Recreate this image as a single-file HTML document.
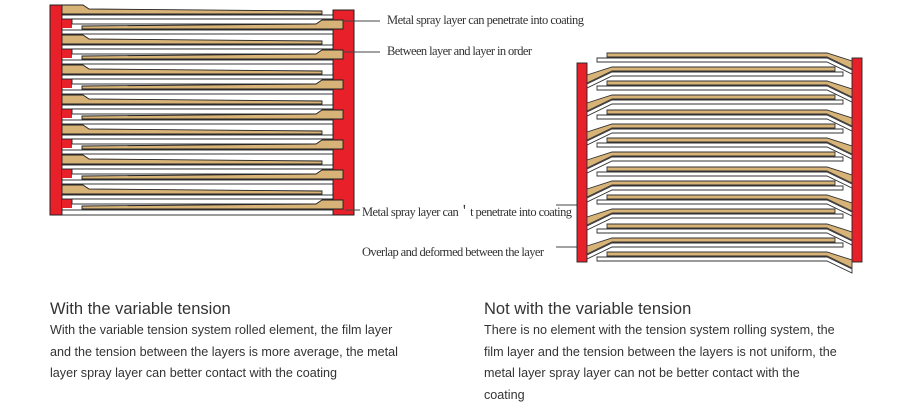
<!DOCTYPE html>
<html><head><meta charset="utf-8"><style>
body{margin:0;background:#fff;width:915px;height:413px;overflow:hidden;position:relative;font-family:"Liberation Sans",sans-serif}
.h{position:absolute;font-size:16.5px;color:#333}
.p{position:absolute;font-size:12.6px;color:#333;line-height:21.5px}
</style></head><body>
<svg width="915" height="413" style="position:absolute;left:0;top:0" font-family="Liberation Serif,serif" font-size="12.5" fill="#333">
<g stroke="#222" stroke-width="1">
<rect x="50" y="5" width="12" height="210" fill="#e8202a"/>
<rect x="333" y="10" width="21" height="205" fill="#e8202a"/>
</g>
<g id="L" stroke="#222" stroke-width="1">
</g>
<script>
</script>
<g stroke="#222" stroke-width="1">
<!-- left diagram layers -->
<g>
<!-- generated -->
</g>
</g>
<g stroke="#222" stroke-width="0.9">
<rect x="62" y="18" width="10" height="10" fill="#e8202a" stroke="none"/>
<rect x="62" y="48" width="10" height="10" fill="#e8202a" stroke="none"/>
<rect x="62" y="78" width="10" height="10" fill="#e8202a" stroke="none"/>
<rect x="62" y="108" width="10" height="10" fill="#e8202a" stroke="none"/>
<rect x="62" y="138" width="10" height="10" fill="#e8202a" stroke="none"/>
<rect x="62" y="168" width="10" height="10" fill="#e8202a" stroke="none"/>
<rect x="62" y="198" width="10" height="10" fill="#e8202a" stroke="none"/>
</g>
<g stroke="#222" stroke-width="0.9" fill="#fff">
<rect x="62" y="15" width="271" height="4"/><rect x="72" y="19" width="261" height="5"/>
<rect x="62" y="45" width="271" height="4"/><rect x="72" y="49" width="261" height="5"/>
<rect x="62" y="75" width="271" height="4"/><rect x="72" y="79" width="261" height="5"/>
<rect x="62" y="105" width="271" height="4"/><rect x="72" y="109" width="261" height="5"/>
<rect x="62" y="135" width="271" height="4"/><rect x="72" y="139" width="261" height="5"/>
<rect x="62" y="165" width="271" height="4"/><rect x="72" y="169" width="261" height="5"/>
<rect x="62" y="195" width="271" height="4"/><rect x="72" y="199" width="261" height="5"/>
<rect x="62" y="30" width="271" height="4"/><rect x="62" y="60" width="271" height="4"/>
<rect x="62" y="90" width="271" height="4"/><rect x="62" y="120" width="271" height="4"/>
<rect x="62" y="150" width="271" height="4"/><rect x="62" y="180" width="271" height="4"/>
<rect x="62" y="210" width="271" height="5"/>
</g>
<g stroke="#222" stroke-width="0.9" fill="#d8b377">
<polygon points="62,5 83,5 89,9 322,11 322,14 62,14"/>
<polygon points="62,35 83,35 89,39 322,41 322,44 62,44"/>
<polygon points="62,65 83,65 89,69 322,71 322,74 62,74"/>
<polygon points="62,95 83,95 89,99 322,101 322,104 62,104"/>
<polygon points="62,125 83,125 89,129 322,131 322,134 62,134"/>
<polygon points="62,155 83,155 89,159 322,161 322,164 62,164"/>
<polygon points="62,185 83,185 89,189 322,191 322,194 62,194"/>
<polygon points="82,26 316,24 322,20 343,20 343,29 82,29"/>
<polygon points="82,56 316,54 322,50 343,50 343,59 82,59"/>
<polygon points="82,86 316,84 322,80 343,80 343,89 82,89"/>
<polygon points="82,116 316,114 322,110 343,110 343,119 82,119"/>
<polygon points="82,146 316,144 322,140 343,140 343,149 82,149"/>
<polygon points="82,176 316,174 322,170 343,170 343,179 82,179"/>
<polygon points="82,206 316,204 322,200 343,200 343,209 82,209"/>
</g>
<g stroke="#444" stroke-width="1">
<line x1="344" y1="21" x2="380" y2="21"/>
<line x1="343" y1="52" x2="380" y2="52"/>
<line x1="345" y1="210" x2="360" y2="210"/>
<line x1="556" y1="205" x2="580" y2="205"/>
<line x1="556" y1="247" x2="587" y2="247"/>
</g>
<!-- right diagram -->
<g stroke="#222" stroke-width="0.9">
<rect x="577" y="63" width="10" height="199" fill="#e8202a"/>
<rect x="852" y="58" width="10" height="204" fill="#e8202a"/>
</g>
<g stroke="#333" stroke-width="0.9">
<g id="rg"></g>
</g>
<g stroke="#333" stroke-width="0.9">
<!-- right-tan groups -->
<polygon fill="#d8b377" points="607,53 827,53 852,61 852,69 827,57 607,57"/>
<polygon fill="#fff" points="597,58 827,58 852,70 852,74 827,62 597,62"/>
<polygon fill="#d8b377" points="607,81 827,81 852,89 852,97 827,85 607,85"/>
<polygon fill="#fff" points="597,86 827,86 852,98 852,102 827,90 597,90"/>
<polygon fill="#d8b377" points="607,110 827,110 852,118 852,126 827,114 607,114"/>
<polygon fill="#fff" points="597,115 827,115 852,127 852,131 827,119 597,119"/>
<polygon fill="#d8b377" points="607,138 827,138 852,146 852,154 827,142 607,142"/>
<polygon fill="#fff" points="597,143 827,143 852,155 852,159 827,147 597,147"/>
<polygon fill="#d8b377" points="607,167 827,167 852,175 852,183 827,171 607,171"/>
<polygon fill="#fff" points="597,172 827,172 852,184 852,188 827,176 597,176"/>
<polygon fill="#d8b377" points="607,195 827,195 852,203 852,211 827,199 607,199"/>
<polygon fill="#fff" points="597,200 827,200 852,212 852,216 827,204 597,204"/>
<polygon fill="#d8b377" points="607,224 827,224 852,232 852,240 827,228 607,228"/>
<polygon fill="#fff" points="597,229 827,229 852,241 852,245 827,233 597,233"/>
<polygon fill="#d8b377" points="607,252 827,252 852,260 852,268 827,256 607,256"/>
<polygon fill="#fff" points="597,257 827,257 852,269 852,273 827,261 597,261"/>
<!-- left-tan groups -->
<polygon fill="#d8b377" points="587,75 612,67 835,67 835,71 612,71 587,83"/>
<polygon fill="#fff" points="587,84 612,72 843,72 843,76 612,76 587,88"/>
<polygon fill="#d8b377" points="587,103 612,95 835,95 835,99 612,99 587,111"/>
<polygon fill="#fff" points="587,112 612,100 843,100 843,104 612,104 587,116"/>
<polygon fill="#d8b377" points="587,132 612,124 835,124 835,128 612,128 587,140"/>
<polygon fill="#fff" points="587,141 612,129 843,129 843,133 612,133 587,145"/>
<polygon fill="#d8b377" points="587,160 612,152 835,152 835,156 612,156 587,168"/>
<polygon fill="#fff" points="587,169 612,157 843,157 843,161 612,161 587,173"/>
<polygon fill="#d8b377" points="587,189 612,181 835,181 835,185 612,185 587,197"/>
<polygon fill="#fff" points="587,198 612,186 843,186 843,190 612,190 587,202"/>
<polygon fill="#d8b377" points="587,217 612,209 835,209 835,213 612,213 587,225"/>
<polygon fill="#fff" points="587,226 612,214 843,214 843,218 612,218 587,230"/>
<polygon fill="#d8b377" points="587,246 612,238 835,238 835,242 612,242 587,254"/>
<polygon fill="#fff" points="587,255 612,243 843,243 843,247 612,247 587,259"/>
</g>
<text x="387" y="24" textLength="197">Metal spray layer can penetrate into coating</text>
<text x="387" y="55" textLength="145">Between layer and layer in order</text>
<text x="362" y="216" textLength="210">Metal spray layer can＇t penetrate into coating</text>
<text x="362" y="256" textLength="182">Overlap and deformed between the layer</text>
</svg>
<div class="h" style="left:50px;top:300px">With the variable tension</div>
<div class="p" style="left:50px;top:320px">With the variable tension system rolled element, the film layer<br>and the tension between the layers is more average, the metal<br>layer spray layer can better contact with the coating</div>
<div class="h" style="left:484px;top:300px">Not with the variable tension</div>
<div class="p" style="left:484px;top:320px">There is no element with the tension system rolling system, the<br>film layer and the tension between the layers is not uniform, the<br>metal layer spray layer can not be better contact with the<br>coating</div>
</body></html>
